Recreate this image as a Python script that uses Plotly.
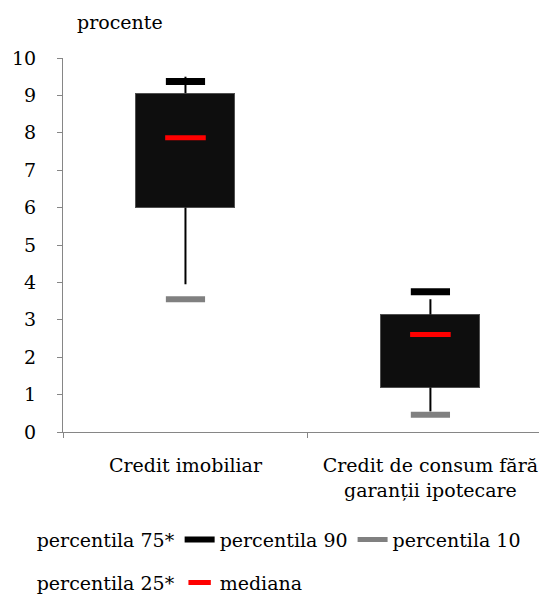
import plotly.graph_objects as go

# ---- data ----
categories = ["Credit imobiliar", "Credit de consum fără<br>garanții ipotecare"]
p25 = [6.00, 1.19]
p75 = [9.06, 3.14]
median = [7.87, 2.61]
p90 = [9.37, 3.75]
p10 = [3.55, 0.46]
whisker_high = [9.50, 3.55]
whisker_low = [3.95, 0.55]
y_ticks = list(range(0, 11))

FONT = "DejaVu Serif"
FS = 19
AXIS_GREY = "#868686"


def separated(xs, ys):
    """Interleave None so each point is its own (line-less) segment."""
    ox, oy = [], []
    for x, y in zip(xs, ys):
        ox += [x, None]
        oy += [y, None]
    return ox[:-1], oy[:-1]


def whisker_segments(xs, lo, q1, q3, hi):
    ox, oy = [], []
    for x, a, b, c, d in zip(xs, lo, q1, q3, hi):
        ox += [x, x, None, x, x, None]
        oy += [a, b, None, c, d, None]
    return ox, oy


box_height = [b - a for a, b in zip(p25, p75)]

fig = go.Figure()

# invisible lower stack part (0 .. p25)
fig.add_trace(go.Bar(
    x=categories, y=p25, name="percentila 25*",
    marker=dict(color="rgba(0,0,0,0)", line=dict(width=0)),
    legend="legend2", legendrank=1, hoverinfo="skip",
))
# the box (p25 .. p75)
fig.add_trace(go.Bar(
    x=categories, y=box_height, name="percentila 75*",
    marker=dict(color="#0e0e0e", line=dict(color="#505050", width=1)),
    showlegend=False, customdata=p75,
    hovertemplate="%{x}<br>percentila 75: %{customdata}<extra></extra>",
))
# legend entry for percentila 75* (no visible key, as in the reference)
fig.add_trace(go.Scatter(
    x=categories, y=p75, name="percentila 75*", mode="markers",
    marker=dict(color="rgba(0,0,0,0)", opacity=0, size=1,
                line=dict(width=0, color="rgba(0,0,0,0)")),
    legend="legend", legendrank=1,
))

# whiskers
wx, wy = whisker_segments(categories, whisker_low, p25, p75, whisker_high)
fig.add_trace(go.Scatter(
    x=wx, y=wy, mode="lines", line=dict(color="black", width=2),
    showlegend=False, hoverinfo="skip",
))

# percentile 90
x90, y90 = separated(categories, p90)
fig.add_trace(go.Scatter(
    x=x90, y=y90, name="percentila 90", mode="lines+markers",
    line=dict(color="black", width=6), connectgaps=False,
    marker=dict(symbol="line-ew", size=28, color="black",
                line=dict(color="black", width=7)),
    legend="legend", legendrank=2,
))
# percentile 10
x10, y10 = separated(categories, p10)
fig.add_trace(go.Scatter(
    x=x10, y=y10, name="percentila 10", mode="lines+markers",
    line=dict(color="#808080", width=5), connectgaps=False,
    marker=dict(symbol="line-ew", size=28, color="#808080",
                line=dict(color="#808080", width=6)),
    legend="legend", legendrank=3,
))
# median
fig.add_trace(go.Scatter(
    x=categories, y=median, name="mediana", mode="markers",
    marker=dict(symbol="line-ew", size=29, color="#ff0000",
                line=dict(color="#ff0000", width=5)),
    legend="legend2", legendrank=2,
))

legend_common = dict(
    orientation="h", xanchor="left", yanchor="middle", traceorder="normal",
    font=dict(family=FONT, size=FS, color="black"),
    bgcolor="rgba(0,0,0,0)", borderwidth=0, itemwidth=30,
)

# the page body adds an 8px offset, so the figure is 8px smaller than the window
fig.update_layout(
    width=539, height=588,
    margin=dict(l=55, r=0, t=50, b=164, autoexpand=False),
    paper_bgcolor="white", plot_bgcolor="white",
    barmode="stack", bargap=0.596,
    font=dict(family=FONT, size=FS, color="black"),
    showlegend=True,
    legend=dict(x=-0.137, y=-0.288, **legend_common),
    legend2=dict(x=-0.137, y=-0.403, **legend_common),
    xaxis=dict(
        type="category", range=[-0.5, 1.476],
        showline=True, linecolor=AXIS_GREY, linewidth=1,
        ticks="outside", tickson="boundaries", ticklen=5, tickcolor=AXIS_GREY,
        showgrid=False, zeroline=False,
        tickfont=dict(family=FONT, size=FS, color="black"),
        ticklabelstandoff=16,
    ),
    yaxis=dict(
        range=[0, 10], tickvals=y_ticks,
        showline=True, linecolor=AXIS_GREY, linewidth=1,
        ticks="outside", ticklen=5, tickcolor=AXIS_GREY,
        showgrid=False, zeroline=False,
        tickfont=dict(family=FONT, size=FS, color="black"),
        ticklabelstandoff=17,
    ),
    annotations=[dict(
        text="procente", xref="paper", yref="paper",
        x=0.025, y=1.096, xanchor="left", yanchor="middle",
        showarrow=False, font=dict(family=FONT, size=FS, color="black"),
    )],
)

fig.write_html("out.html")
